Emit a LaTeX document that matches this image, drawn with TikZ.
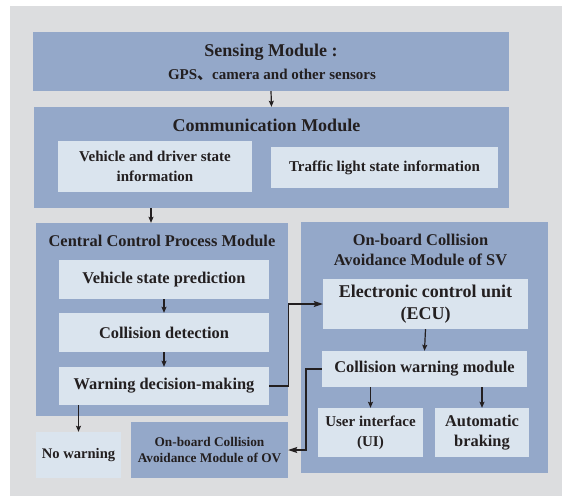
\documentclass[tikz,border=0pt]{standalone}
\usepackage{fontspec}
\setmainfont{Liberation Serif}
\newfontfamily\cjk{Noto Sans CJK SC}
\usetikzlibrary{arrows.meta}
\definecolor{bggrey}{HTML}{DCDDDF}
\definecolor{modblue}{HTML}{94A8C9}
\definecolor{lightbox}{HTML}{DAE4EE}
\definecolor{ink}{HTML}{231F20}
\newcommand{\fs}[2]{\fontsize{#1}{#2}\selectfont\bfseries}
\tikzset{
  modbox/.style={fill=modblue, draw=none, inner sep=0pt, text=ink, align=center},
  litebox/.style={fill=lightbox, draw=none, inner sep=0pt, text=ink, align=center},
  lbl/.style={inner sep=0pt, text=ink, align=center},
  arr/.style={draw=ink, line width=1.2pt, -{Stealth[length=6pt,width=5pt,inset=1pt]}},
  bigarr/.style={draw=ink, line width=1.2pt, -{Stealth[length=9pt,width=6pt,inset=1.5pt]}},
}
\begin{document}
\begin{tikzpicture}[x=1pt,y=-1pt]
\useasboundingbox (0,0) rectangle (562,496);
\fill[bggrey] (10,6) rectangle (562,496);

% Sensing
\node[modbox, minimum width=476pt, minimum height=59pt] (sens) at (271,61.5) {};
\node[lbl, font=\fs{18}{20}] (senst) at (271,52) {Sensing Module :};
\node[lbl, font=\fs{15}{17}] (senss) at (272,75) {GPS{\cjk 、}camera and other sensors};

% Communication
\node[modbox, minimum width=475pt, minimum height=101pt] (comm) at (271.5,157.5) {};
\node[lbl, font=\fs{18}{20}] (commt) at (266.5,125) {Communication Module};
\node[litebox, minimum width=194pt, minimum height=51pt, font=\fs{15}{20}] (vd) at (155,166.5) {Vehicle and driver state\\information};
\node[litebox, minimum width=227pt, minimum height=41pt, font=\fs{15}{17}] (tl) at (384.5,167.5) {Traffic light state information};

% Central control
\node[modbox, minimum width=252pt, minimum height=193pt] (ccp) at (162,319.5) {};
\node[lbl, font=\fs{16.4}{18}] (ccpt) at (162,241) {Central Control Process Module};
\node[litebox, minimum width=210pt, minimum height=39pt, font=\fs{16.4}{18}] (vsp) at (164,279.5) {Vehicle state prediction};
\node[litebox, minimum width=210pt, minimum height=39pt, font=\fs{16.4}{18}] (cd) at (164,332.5) {Collision detection};
\node[litebox, minimum width=210pt, minimum height=38pt, font=\fs{16.4}{18}] (wdm) at (164,386) {Warning decision-making};

% No warning and OV
\node[litebox, minimum width=85pt, minimum height=46pt, font=\fs{14.6}{17}] (nw) at (78.5,455) {No warning};
\node[modbox, minimum width=157pt, minimum height=56pt, font=\fs{13.3}{16.5}] (ov) at (209.5,450) {On-board Collision\\Avoidance Module of OV};

% SV module
\node[modbox, minimum width=247pt, minimum height=251pt] (sv) at (424.5,347.5) {};
\node[lbl, font=\fs{16.4}{20}] (svt) at (420.5,250) {On-board Collision\\Avoidance Module of SV};
\node[litebox, minimum width=205pt, minimum height=50pt, font=\fs{18}{22}] (ecu) at (425.5,304) {Electronic control unit\\(ECU)};
\node[litebox, minimum width=205pt, minimum height=36pt, font=\fs{16.4}{18}] (cwm) at (424.5,369) {Collision warning module};
\node[litebox, minimum width=105pt, minimum height=49pt, font=\fs{15}{20}] (ui) at (370.5,432.5) {User interface\\(UI)};
\node[litebox, minimum width=94pt, minimum height=49pt, font=\fs{16.4}{20}] (ab) at (482,432.5) {Automatic\\braking};

% helper coordinates
\coordinate (c1) at (151,0);
\coordinate (k) at (306,0);

% connectors
\draw[arr] (sens.south) -- (comm.north);
\draw[arr] (comm.south -| c1) -- (ccp.north -| c1);
\draw[arr] (vsp.south) -- (cd.north);
\draw[arr] (cd.south) -- (wdm.north);
\draw[arr] (wdm.south -| nw.north) -- (nw.north);
\draw[bigarr] (wdm.east) -- (ccp.east |- wdm.east) -- (ccp.east |- ecu.west) -- (ecu.west);
\draw[arr] (ecu.south) -- (cwm.north);
\draw[bigarr] (cwm.west) -- (cwm.west -| k) -- (k |- ov.east) -- (ov.east);
\draw[arr] (cwm.south -| ui.north) -- (ui.north);
\draw[arr] (cwm.south -| ab.north) -- (ab.north);
\end{tikzpicture}
\end{document}
